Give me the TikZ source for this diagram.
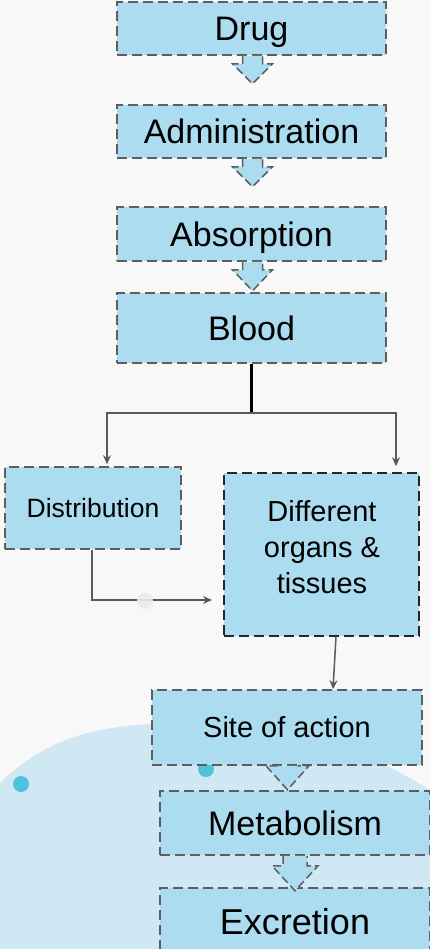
\documentclass[tikz,border=0pt]{standalone}
\usepackage{fontspec}
\setmainfont{Liberation Sans}
\usetikzlibrary{arrows.meta,calc}
\definecolor{bg}{HTML}{F8F8F8}
\definecolor{boxblue}{HTML}{ABDCEF}
\definecolor{blobblue}{HTML}{D0E8F3}
\definecolor{dotblue}{HTML}{4FC3DC}
\definecolor{dashgray}{HTML}{5E5E5E}
\definecolor{conngray}{HTML}{5A5A5A}
\definecolor{dotgray}{HTML}{EBEBEB}
\newcommand\blockarrow[6]{% #1 node, #2 x offset, #3 shaft half, #4 head half, #5 shaft length, #6 head length
  \path let \p1=([xshift=#2]#1.south) in
    [fill=boxblue] (\x1-#3,\y1) -- (\x1-#3,\y1-#5) -- (\x1-#4,\y1-#5) -- (\x1,\y1-#5-#6)
      -- (\x1+#4,\y1-#5) -- (\x1+#3,\y1-#5) -- (\x1+#3,\y1) -- cycle;
  \path let \p1=([xshift=#2]#1.south) in
    [draw=dashgray, line width=1.5pt, dash pattern=on 8pt off 4pt]
    (\x1-#3,\y1) -- (\x1-#3,\y1-#5) -- (\x1-#4,\y1-#5) -- (\x1,\y1-#5-#6)
      -- (\x1+#4,\y1-#5) -- (\x1+#3,\y1-#5) -- (\x1+#3,\y1);
}
\begin{document}
\begin{tikzpicture}[x=1pt,y=-1pt,
  box/.style={draw=dashgray, fill=boxblue, dash pattern=on 10pt off 5pt, line width=1.6pt,
    inner sep=0pt, align=center, text depth=0pt},
  big/.style={font=\fontsize{34}{40}\selectfont, text height=24.3pt},
  conn/.style={draw=conngray, line width=1.5pt, -{Stealth[length=9pt,width=8pt,inset=3pt]}},
]
\useasboundingbox (0,0) rectangle (430,949);
\fill[bg] (0,0) rectangle (430,949);
% background blob
\fill[blobblue] (0,783) .. controls (40,745) and (80,728) .. (150,724)
  .. controls (300,718) and (360,748) .. (430,790) -- (430,949) -- (0,949) -- cycle;
\fill[dotblue] (21,784) circle (8);
\fill[dotblue] (206,769) circle (8);

\node[box, big, minimum width=269pt, minimum height=53pt] (drug) at (251.5,28.5) {Drug};
\node[box, big, minimum width=269pt, minimum height=53pt] (admin) at (251.5,131.5) {Administration};
\node[box, big, minimum width=269pt, minimum height=54pt] (absorb) at (251.5,234) {Absorption};
\node[box, big, minimum width=269pt, minimum height=70pt] (blood) at (251.5,328) {Blood};

\blockarrow{drug}{1}{10pt}{20pt}{8pt}{20pt}
\blockarrow{admin}{1}{10pt}{20pt}{8pt}{20pt}
\blockarrow{absorb}{1}{10pt}{20pt}{8pt}{21pt}

\node[box, minimum width=176pt, minimum height=82pt, font=\fontsize{26.5}{30}\selectfont, text height=19pt] (dist) at (93,508) {Distribution};
\node[box, draw=black!85, minimum width=195pt, minimum height=163pt] (organs) at (321.5,554.5) {};
\node[font=\fontsize{29}{36}\selectfont, align=center] (organstext) at (322,547) {Different\\organs \&\\tissues};

\coordinate (split) at (251.5,413);
\coordinate (dtarget) at (212,600);
\draw[line width=3pt, black] (blood.south) -- (split);
\draw[conn] (split) -| ([xshift=14pt,yshift=2pt]dist.north);
\draw[conn] (split) -| ([xshift=74.5pt,yshift=6pt]organs.north);
\draw[conn] ([xshift=-1pt]dist.south) |- (dtarget);
\fill[dotgray, opacity=0.9] (145,601) circle (8);

\node[box, minimum width=270pt, minimum height=75pt, font=\fontsize{29}{34}\selectfont, text height=20.8pt] (site) at (287,727.5) {Site of action};
\draw[conn] ([xshift=14.5pt]organs.south) -- ([xshift=46pt]site.north);

\node[box, big, minimum width=270pt, minimum height=64pt] (metab) at (295,823) {Metabolism};
\node[box, minimum width=270pt, minimum height=68pt, font=\fontsize{36}{40}\selectfont, text height=25.8pt] (excr) at (295,922) {Excretion};

\blockarrow{site}{0.5}{10pt}{21.5pt}{0pt}{24pt}
\blockarrow{metab}{0}{12pt}{23pt}{10pt}{25pt}
\end{tikzpicture}
\end{document}
